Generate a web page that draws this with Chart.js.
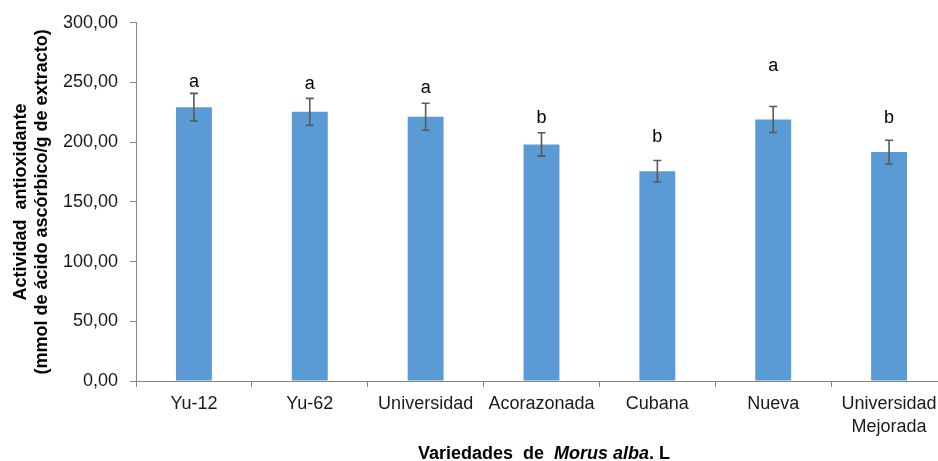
<!DOCTYPE html>
<html lang="es">
<head>
<meta charset="utf-8">
<title>Actividad antioxidante de variedades de Morus alba</title>
<script src="https://cdn.jsdelivr.net/npm/chart.js@4.4.1/dist/chart.umd.min.js"></script>
<style>
  html, body { margin: 0; padding: 0; background: #ffffff; overflow: hidden; }
  #wrap { position: relative; width: 947px; height: 461px; }
</style>
</head>
<body>
<div id="wrap"><canvas id="chart"></canvas></div>
<script>
// Varieties and their antioxidant activity (mmol ascorbic acid / g extract)
const variedades = ["Yu-12", "Yu-62", "Universidad", "Acorazonada", "Cubana", "Nueva", ["Universidad", "Mejorada"]];
const actividad = [229.3, 225.4, 221.3, 198.1, 175.7, 219.0, 191.7];
const errorEstandar = [11.6, 11.3, 11.3, 9.8, 9.0, 10.9, 9.9];
const letras = ["a", "a", "a", "b", "b", "a", "b"];
const yTicks = [0, 50, 100, 150, 200, 250, 300];

const FONT = "'Liberation Sans', Arial, sans-serif";

// Error bars and significance letters above each bar
const errorBarPlugin = {
  id: 'errorBars',
  afterDatasetsDraw(chart, args, opts) {
    const { ctx, scales: { x, y } } = chart;
    const gaps = opts.letterGaps || [];
    ctx.save();
    actividad.forEach((v, i) => {
      const cx = x.getPixelForValue(i);
      const top = y.getPixelForValue(v + errorEstandar[i]);
      const bot = y.getPixelForValue(v - errorEstandar[i]);
      ctx.strokeStyle = '#595959';
      ctx.lineWidth = 1.6;
      ctx.beginPath();
      ctx.moveTo(cx, top); ctx.lineTo(cx, bot);
      ctx.moveTo(cx - 4, top); ctx.lineTo(cx + 4, top);
      ctx.moveTo(cx - 4, bot); ctx.lineTo(cx + 4, bot);
      ctx.stroke();
      ctx.fillStyle = '#000000';
      ctx.font = '18px ' + FONT;
      ctx.textAlign = 'center';
      ctx.textBaseline = 'alphabetic';
      ctx.fillText(letras[i], cx, top - (gaps[i] ?? 8));
    });
    ctx.restore();
  }
};

// Axis titles (mixed bold / bold-italic on the x axis)
const axisTitlePlugin = {
  id: 'axisTitles',
  afterDraw(chart) {
    const { ctx, chartArea } = chart;
    ctx.save();
    ctx.fillStyle = '#000000';
    const parts = [
      { t: 'Variedades  de  ', f: 'bold 18px ' + FONT },
      { t: 'Morus alba', f: 'italic bold 18px ' + FONT },
      { t: '. L', f: 'bold 18px ' + FONT }
    ];
    let total = 0;
    parts.forEach(p => { ctx.font = p.f; p.w = ctx.measureText(p.t).width; total += p.w; });
    let xPos = 544 - total / 2;
    ctx.textBaseline = 'alphabetic';
    ctx.textAlign = 'left';
    parts.forEach(p => { ctx.font = p.f; ctx.fillText(p.t, xPos, 459); xPos += p.w; });
    const cy = (chartArea.top + chartArea.bottom) / 2;
    ctx.font = 'bold 18px ' + FONT;
    ctx.textAlign = 'center';
    ctx.textBaseline = 'middle';
    ctx.translate(21, cy);
    ctx.rotate(-Math.PI / 2);
    ctx.fillText('Actividad  antioxidante', 0, 0);
    ctx.fillText('(mmol de ácido ascórbico/g de extracto)', 0, 21);
    ctx.restore();
  }
};

new Chart(document.getElementById('chart'), {
  type: 'bar',
  data: {
    labels: variedades,
    datasets: [{
      data: actividad,
      backgroundColor: '#5B9BD5',
      borderWidth: 0,
      barPercentage: 0.62,
      categoryPercentage: 0.5
    }]
  },
  options: {
    responsive: true,
    maintainAspectRatio: false,
    animation: false,
    layout: { padding: { top: 19, right: 0, bottom: 0, left: 0 } },
    plugins: {
      legend: { display: false },
      tooltip: { enabled: false },
      errorBars: { letterGaps: [6, 9, 10, 10, 18, 35, 17] }
    },
    scales: {
      x: {
        offset: true,
        border: { display: true, color: '#868686', width: 1 },
        grid: { display: true, offset: true, drawOnChartArea: false, drawTicks: true, tickLength: 6, color: '#868686' },
        ticks: { color: '#1a1a1a', font: { family: FONT, size: 18, lineHeight: 1.3 }, padding: 5, maxRotation: 0, autoSkip: false },
        afterFit(scale) { scale.height = 80; }
      },
      y: {
        min: 0,
        max: 300,
        afterBuildTicks(scale) { scale.ticks = yTicks.map(v => ({ value: v })); },
        border: { display: true, color: '#868686', width: 1 },
        grid: { display: true, drawOnChartArea: false, drawTicks: true, tickLength: 6, color: '#868686' },
        ticks: {
          color: '#1a1a1a',
          font: { family: FONT, size: 18 },
          padding: 12,
          callback: v => v.toFixed(2).replace('.', ',')
        },
        afterFit(scale) { scale.width = 136; }
      }
    }
  },
  plugins: [errorBarPlugin, axisTitlePlugin]
});
</script>
</body>
</html>
